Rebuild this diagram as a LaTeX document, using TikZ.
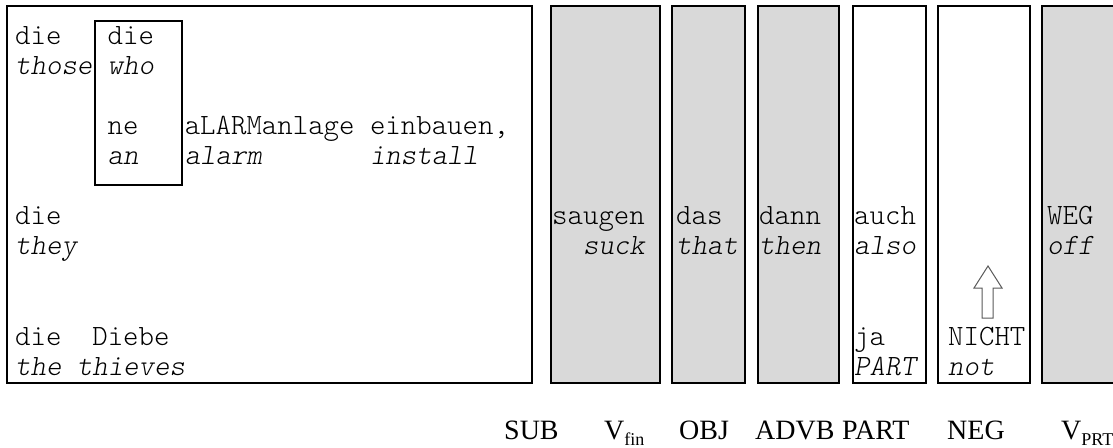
\documentclass[tikz,border=0pt]{standalone}
\usepackage{fontspec}
\setmainfont{Liberation Serif}
\setmonofont{Latin Modern Mono Light}
\usetikzlibrary{positioning}
\definecolor{gris}{RGB}{217,217,217}
\tikzset{
    mot/.style={font=\ttfamily\fontsize{29.4}{30}\selectfont, inner sep=0pt, anchor=base west},
    glose/.style={mot, font=\ttfamily\itshape\fontsize{29.4}{30}\selectfont},
    cadre/.style={line width=1.5pt},
    etiquette/.style={font=\fontsize{28}{30}\selectfont, inner sep=0pt, anchor=base west},
    fleche/.style={line width=1pt, draw=black!65, fill=white}
}
\newcommand{\indice}[1]{\raisebox{-6pt}{\fontsize{18}{18}\selectfont #1}}
\begin{document}
\begin{tikzpicture}[x=1pt,y=-1pt]
    \useasboundingbox (0,0) rectangle (1113,447);
    % Cadre du sujet et de la relative
    \draw[cadre] (7,6) rectangle (532,383);
    \draw[cadre] (95,21) rectangle (182,185);
    % Colonnes grises
    \foreach \a/\b in {551/660,672/745,758/839,1042/1130} {
        \draw[cadre,fill=gris] (\a,6) rectangle (\b,383);}
    % Colonnes blanches
    \foreach \a/\b in {853/926,938/1030} {
        \draw[cadre] (\a,6) rectangle (\b,383);}
    % Sujet
    \node[mot] (die1) at (15,44) {die};
    \node[glose] (those) at ([yshift=-30.5pt]die1.base west) {those};
    \node[mot] (die2) at (107.5,44) {die};
    \node[glose] (who) at ([yshift=-30.5pt]die2.base west) {who};
    \node[mot] (ne) at (107.5,134.5) {ne};
    \node[glose] (an) at ([yshift=-30pt]ne.base west) {an};
    \node[mot] (anlage) at (184.6,134.5) {aLARManlage einbauen,};
    \node[glose] (alarm) at ([yshift=-30pt]anlage.base west) {alarm~~~~~~~install};
    \node[mot] (die3) at (15,224.5) {die};
    \node[glose] (they) at ([yshift=-30pt]die3.base west) {they};
    \node[mot] (diebe) at (15,345.5) {die~~Diebe};
    \node[glose] (thieves) at ([yshift=-30pt]diebe.base west) {the thieves};
    % Colonnes du champ central
    \node[mot] (saugen) at (552,224.5) {saugen};
    \node[glose, anchor=base east] (suck) at ([yshift=-30pt]saugen.base east) {suck};
    \node[mot] (das) at (676,224.5) {das};
    \node[glose] (that) at ([yshift=-30pt]das.base west) {that};
    \node[mot] (dann) at (759,224.5) {dann};
    \node[glose] (then) at ([yshift=-30pt]dann.base west) {then};
    \node[mot] (auch) at (854,224.5) {auch};
    \node[glose] (also) at ([yshift=-30pt]auch.base west) {also};
    \node[mot] (ja) at (854,345.5) {ja};
    \node[glose] (part) at ([yshift=-30pt]ja.base west) {PART};
    \node[mot] (nicht) at (948,345.5) {NICHT};
    \node[glose] (not) at ([yshift=-30pt]nicht.base west) {not};
    \node[mot] (weg) at (1047,224.5) {WEG};
    \node[glose] (off) at ([yshift=-30pt]weg.base west) {off};
    % Fleche vers le haut
    \draw[fleche] (982,318) -- (982,288) -- (974,288) -- (988,266) -- (1002,288)
        -- (993,288) -- (993,318) -- cycle;
    % Etiquettes des positions
    \node[etiquette] (sub) at (504,439) {SUB};
    \node[etiquette] (vfin) at (604,439) {V\indice{fin}};
    \node[etiquette] (obj) at (679,439) {OBJ};
    \node[etiquette] (advb) at (755,439) {ADVB};
    \node[etiquette] (lpart) at (842,439) {PART};
    \node[etiquette] (neg) at (947,439) {NEG};
    \node[etiquette] (vprt) at (1061,439) {V\indice{PRT}};
\end{tikzpicture}
\end{document}
